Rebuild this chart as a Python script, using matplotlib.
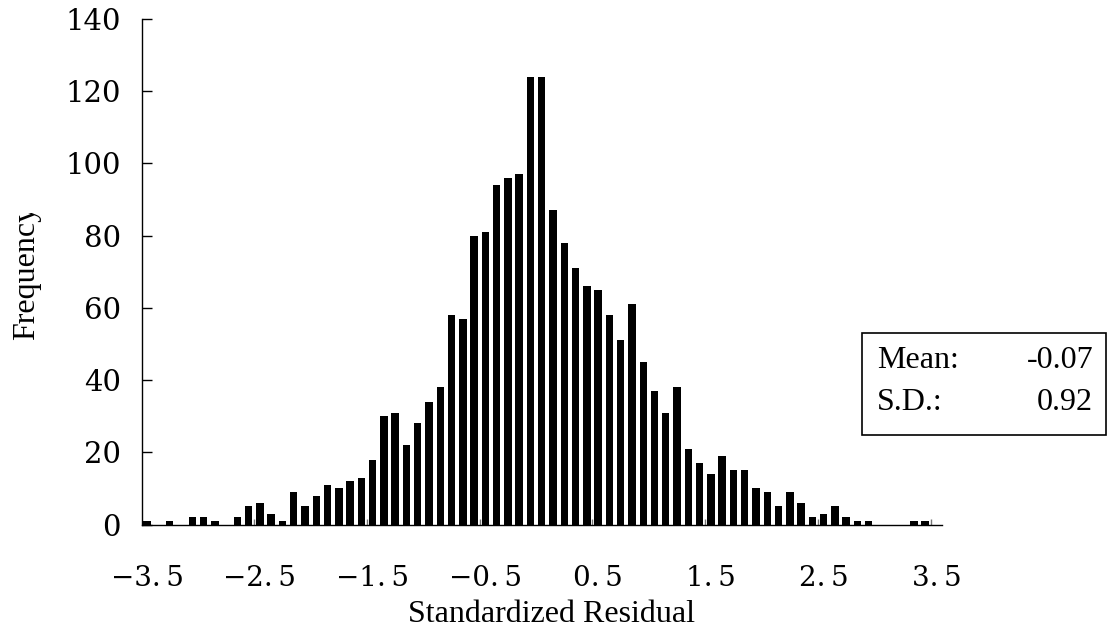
import numpy as np
import matplotlib
matplotlib.use("Agg")
import matplotlib.pyplot as plt
from matplotlib.patches import Rectangle
from matplotlib.transforms import Bbox

# Histogram bins (standardized residual, step 0.1) and frequencies
bin_centers = np.round(np.arange(-35, 36) / 10.0, 1)
counts = [1, 0, 1, 0, 2, 2, 1, 0, 2, 5,
          6, 3, 1, 9, 5, 8, 11, 10, 12, 13,
          18, 30, 31, 22, 28, 34, 38, 58, 57, 80,
          81, 94, 96, 97, 124, 124, 87, 78, 71, 66,
          65, 58, 51, 61, 45, 37, 31, 38, 21, 17,
          14, 19, 15, 15, 10, 9, 5, 9, 6, 2,
          3, 5, 2, 1, 1, 0, 0, 0, 1, 1, 0]
xtick_vals = [-3.5, -2.5, -1.5, -0.5, 0.5, 1.5, 2.5, 3.5]
xtick_labels = ["\u22123.\u20095", "\u22122.\u20095", "\u22121.\u20095", "\u22120.\u20095",
                "0.\u20095", "1.\u20095", "2.\u20095", "3.\u20095"]
yticks = [0, 20, 40, 60, 80, 100, 120, 140]
stat_names = ["Mean:", "S.D.:"]
stat_values = ["-0.07", "0.92"]

W, H = 1119, 641
fig = plt.figure(figsize=(W / 100, H / 100), dpi=100)
ax = fig.add_axes([141.5 / W, 1 - 524.5 / H, (942 - 141.5) / W, (524.5 - 19) / H])

ax.bar(bin_centers, counts, width=0.066, color="black", edgecolor="none")

ax.set_xlim(-3.55, 3.55)
ax.set_ylim(0, 140)
for s in ["top", "right"]:
    ax.spines[s].set_visible(False)
for s in ["left", "bottom"]:
    ax.spines[s].set_color("black")
    ax.spines[s].set_linewidth(1.0)

ax.set_yticks(yticks)
ax.set_yticklabels([str(v) for v in yticks], family="DejaVu Serif", size=21)
ax.tick_params(axis="y", direction="in", length=7.5, width=1.0, pad=15)

ax.set_xticks(xtick_vals)
ax.set_xticklabels(xtick_labels, family="DejaVu Serif", size=20)
ax.tick_params(axis="x", which="major", length=0, pad=29)
minor = [v - 0.05 for v in xtick_vals[1:]]
ax.set_xticks(minor, minor=True)
ax.tick_params(axis="x", which="minor", direction="in", length=4.5, width=1.0, color="#777777")

serif = ["Liberation Serif", "DejaVu Serif"]
fig.text(551 / W, 1 - 614 / H, "Standardized Residual", ha="center", va="center",
         family=serif, size=23)
yl = fig.text(27 / W, 1 - 272 / H, "Frequency", ha="center", va="center",
              rotation=90, family=serif, size=23)
yl.set_clip_box(Bbox.from_extents(0, 0, W, H - 213))
yl.set_clip_on(True)

fig.patches.append(Rectangle((862 / W, 1 - 435 / H), 244 / W, 102 / H,
                             transform=fig.transFigure, facecolor="white",
                             edgecolor="black", linewidth=1.2))
for i, (n, v) in enumerate(zip(stat_names, stat_values)):
    yy = 1 - (361 + 42 * i) / H
    fig.text(877 / W, yy, n, ha="left", va="center", family=serif, size=23)
    fig.text(1093 / W, yy, v, ha="right", va="center", family=serif, size=23)

fig.savefig("out.png", dpi=100)
